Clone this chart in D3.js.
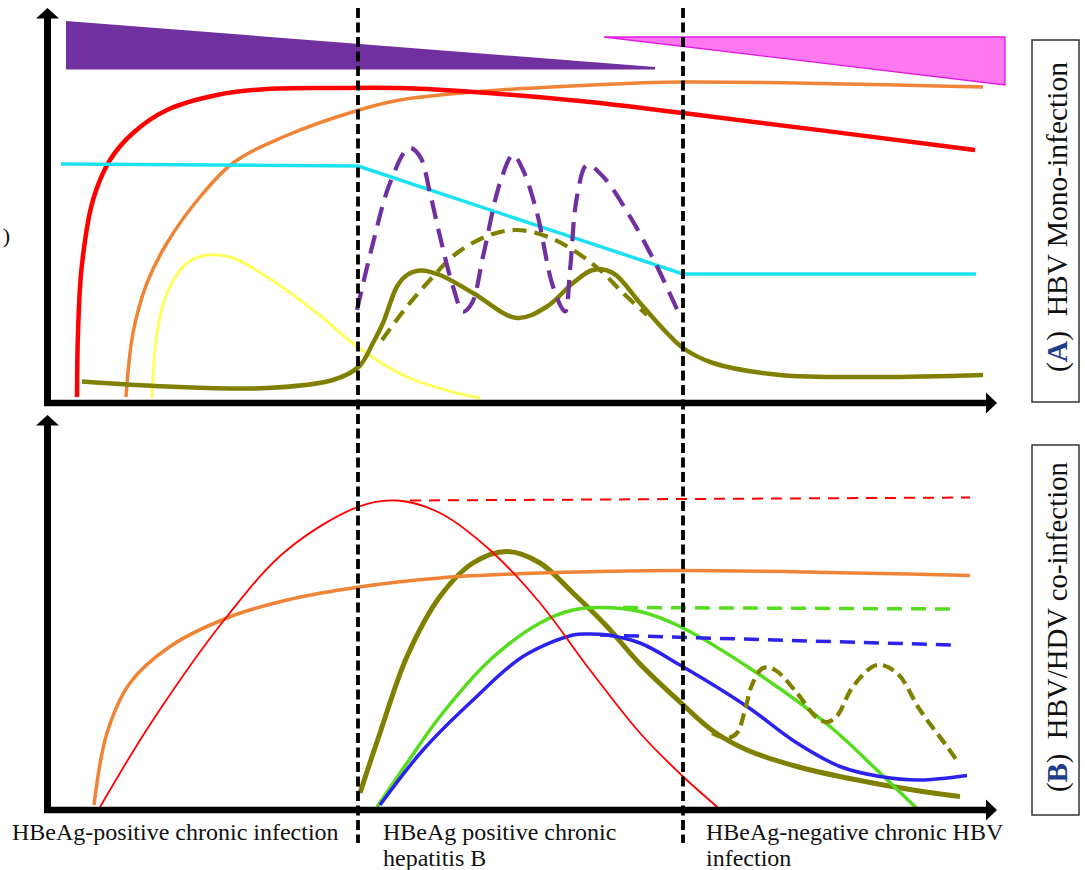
<!DOCTYPE html>
<html><head><meta charset="utf-8">
<script src="https://cdn.jsdelivr.net/npm/d3@7"></script>
<style>body{margin:0;background:#fff}svg{display:block}</style>
</head><body>
<svg id="chart" width="1085" height="870"></svg>
<script>
// ---------- DATA (time in arbitrary units 0-95, level in arbitrary units 0-79) ----------
const phaseBounds = [31.2, 63.7];
const phaseLabels = [
  ["HBeAg-positive chronic infection"],
  ["HBeAg positive chronic", "hepatitis B"],
  ["HBeAg-negative chronic HBV", "infection"]
];
const panelLetters = ["A", "B"];
const panelTitles = ["HBV Mono-infection", "HBV/HDV co-infection"];
const cutLabel = ")";

// Panel A (HBV mono-infection)
const purpleWedge = [[2.0,76.4],[60.9,67.2],[60.9,66.7],[2.0,66.7]];
const pinkWedge   = [[55.8,73.2],[95.9,73.2],[95.9,63.6]];
const redA = [[3.1,1.2],[3.2,14.0],[3.57,27.2],[4.7,40.6],[6.4,48.6],[8.7,54.0],[12.1,58.6],[17.1,61.6],[22.1,62.8],[28.7,63.0],[35.4,63.0],[41.4,62.4],[53.4,60.4],[63.7,58.0],[92.9,50.6]];
const orangeA = [[8.0,1.2],[8.7,14.0],[10.1,24.0],[12.1,32.0],[15.4,41.2],[18.7,48.0],[23.7,53.2],[31.3,58.6],[35.4,60.6],[45.4,62.6],[53.4,63.5],[63.7,64.2],[93.7,63.2]];
const yellowA = [[10.6,1.0],[11.1,14.0],[12.1,22.0],[14.1,28.0],[16.2,29.6],[18.7,29.0],[22.1,25.2],[27.1,18.0],[31.3,11.0],[36.1,5.2],[41.1,2.0],[43.4,1.0]];
const cyanA = [[1.5,47.8],[31.2,47.4],[63.7,25.8],[93.0,25.8]];
const oliveA = [[3.6,4.3],[12.1,3.3],[22.1,3.0],[28.7,4.6],[31.3,7.3],[32.7,12.0],[33.7,16.0],[35.1,23.3],[36.1,25.6],[37.4,26.5],[39.4,25.6],[42.7,22.0],[47.1,17.0],[50.1,19.3],[52.7,24.0],[54.7,26.6],[56.7,26.0],[59.4,20.0],[62.1,14.0],[63.7,11.0],[66.7,8.0],[73.4,5.6],[83.4,5.2],[93.7,5.6]];
const oliveDashA = [[33.6,12.6],[36.1,19.3],[38.4,24.6],[41.1,30.0],[44.4,33.6],[47.1,34.6],[50.1,33.3],[52.7,30.6],[55.4,26.6],[57.7,22.0],[60.1,17.6]];
const purpleDashA = [[31.1,18.6],[32.7,32.0],[34.4,44.0],[36.3,51.0],[37.4,49.3],[38.4,42.0],[39.4,33.3],[40.7,23.3],[41.7,18.3],[42.6,20.0],[43.7,29.3],[45.4,44.0],[46.7,49.6],[47.7,46.6],[49.1,38.0],[50.7,23.3],[51.9,18.3],[52.4,26.6],[53.1,41.3],[54.1,47.6],[55.7,45.3],[58.4,37.3],[61.1,27.3],[63.2,18.3]];

// Panel B (HBV/HDV co-infection)
const redB = [[5.4,0.6],[10.7,18.0],[18.1,38.7],[24.1,52.0],[31.3,60.7],[35.1,61.9],[39.4,59.4],[44.4,52.0],[49.4,41.4],[54.4,28.0],[59.4,15.4],[63.7,6.7],[67.6,-0.2]];
const redDashB = [[36.4,61.9],[92.4,62.5]];
const orangeB = [[4.8,1.0],[6.1,15.4],[8.4,25.4],[12.4,32.7],[18.1,38.4],[24.1,42.0],[31.3,44.6],[39.4,46.4],[49.4,47.4],[63.4,47.9],[92.4,46.9]];
const oliveB = [[31.4,3.4],[33.4,15.4],[36.1,30.7],[39.4,42.7],[42.7,49.4],[46.1,51.7],[49.4,49.4],[52.7,43.4],[56.1,36.7],[59.4,29.2],[63.4,21.6],[66.7,15.8],[70.1,12.0],[75.1,8.7],[80.1,6.4],[86.7,4.0],[91.4,2.7]];
const greenB = [[33.1,0.6],[36.1,9.4],[39.4,18.7],[44.4,30.0],[49.4,37.4],[52.7,40.0],[55.4,40.5],[59.4,39.7],[63.4,36.7],[71.1,27.4],[78.4,16.7],[83.4,7.4],[87.4,-0.3]];
const greenDashB = [[57.7,40.5],[91.1,40.2]];
const blueB = [[33.4,1.0],[37.7,12.0],[42.7,22.0],[47.7,30.7],[52.7,35.0],[54.4,35.2],[56.1,35.0],[59.4,33.4],[63.4,29.0],[70.1,20.7],[75.1,13.4],[79.4,8.7],[83.4,6.7],[87.4,6.0],[92.1,6.9]];
const blueDashB = [[55.4,35.0],[90.6,33.0]];
const oliveDashB = [[66.6,15.4],[68.1,14.4],[69.1,15.4],[69.9,20.0],[70.6,25.0],[71.7,28.4],[72.9,28.0],[75.1,23.4],[76.9,18.8],[78.1,17.6],[79.1,18.8],[80.7,24.7],[83.1,29.0],[85.1,27.4],[87.4,20.0],[90.1,12.7],[91.2,9.6]];

// ---------- DRAWING ----------
const svg = d3.select("#chart");
const FONT = "'Liberation Serif','Times New Roman',serif";
const x  = d3.scaleLinear().domain([0, 95]).range([46, 996]);
const yA = d3.scaleLinear().domain([0, 79]).range([403, 8]);
const yB = d3.scaleLinear().domain([0, 79]).range([810, 415]);
const SMOOTH = d3.curveCatmullRom.alpha(0.5);

function lineGen(y, curve) {
  return d3.line().x(d => x(d[0])).y(d => y(d[1])).curve(curve || SMOOTH);
}
function drawSeries(g, y, data, color, width, dash, curve) {
  g.append("path").datum(data)
    .attr("d", lineGen(y, curve))
    .attr("fill", "none").attr("stroke", color).attr("stroke-width", width)
    .attr("stroke-linecap", "butt").attr("stroke-linejoin", "round")
    .attr("stroke-dasharray", dash || null);
}
function drawAxes(g, y) {
  const ax = x(0) + 1.5, y0 = y(0), yTop = y(79), xEnd = x(95) + 1;
  g.append("line").attr("x1", ax).attr("x2", ax).attr("y1", y0 + 3).attr("y2", yTop + 9)
    .attr("stroke", "#000").attr("stroke-width", 7);
  g.append("path").attr("d", `M${ax-11.5},${yTop+10.5}L${ax},${yTop}L${ax+11.5},${yTop+10.5}Z`).attr("fill", "#000");
  g.append("line").attr("x1", ax - 3.5).attr("x2", xEnd - 9).attr("y1", y0).attr("y2", y0)
    .attr("stroke", "#000").attr("stroke-width", 6.5);
  g.append("path").attr("d", `M${xEnd-11},${y0-10.5}L${xEnd},${y0}L${xEnd-11},${y0+10.5}Z`).attr("fill", "#000");
}

// Panel A
const gA = svg.append("g");
gA.append("path").datum(purpleWedge).attr("d", lineGen(yA, d3.curveLinearClosed)).attr("fill", "#7030A0");
gA.append("path").datum(pinkWedge).attr("d", lineGen(yA, d3.curveLinearClosed))
  .attr("fill", "#FF78F0").attr("stroke", "#E01AE0").attr("stroke-width", 1.3);
drawSeries(gA, yA, yellowA, "#FFFF5C", 3);
drawSeries(gA, yA, orangeA, "#EF8436", 3.5);
drawSeries(gA, yA, redA, "#FF0000", 4.5);
drawSeries(gA, yA, cyanA, "#1CE2EF", 3.5, null, d3.curveLinear);
drawSeries(gA, yA, oliveA, "#808000", 4.5);
drawSeries(gA, yA, oliveDashA, "#808000", 4.2, "14,8");
drawSeries(gA, yA, purpleDashA, "#7030A0", 4.2, "19,10");
drawAxes(gA, yA);

// Panel B
const gB = svg.append("g");
drawSeries(gB, yB, oliveB, "#808000", 5);
drawSeries(gB, yB, greenB, "#56DC1E", 3.5);
drawSeries(gB, yB, blueB, "#2B22EE", 3.5);
drawSeries(gB, yB, orangeB, "#EF8436", 3.5);
drawSeries(gB, yB, redB, "#FF0000", 1.8);
drawSeries(gB, yB, redDashB, "#FF0000", 2, "11,8", d3.curveLinear);
drawSeries(gB, yB, greenDashB, "#56DC1E", 3.5, "15,9", d3.curveLinear);
drawSeries(gB, yB, blueDashB, "#2B22EE", 3.5, "15,9", d3.curveLinear);
drawSeries(gB, yB, oliveDashB, "#808000", 4.2, "12,6");
drawAxes(gB, yB);

// Phase boundaries
svg.append("g").selectAll("line").data(phaseBounds).join("line")
  .attr("x1", d => x(d)).attr("x2", d => x(d)).attr("y1", 8).attr("y2", 843)
  .attr("stroke", "#000").attr("stroke-width", 3.8).attr("stroke-dasharray", "10,4.5");

// Phase labels
const labelX = [12, x(phaseBounds[0]) + 25, x(phaseBounds[1]) + 23];
phaseLabels.forEach((lines, i) => {
  lines.forEach((t, j) => {
    svg.append("text").attr("x", labelX[i]).attr("y", 840 + j * 26)
      .attr("font-family", FONT).attr("font-size", 24).attr("fill", "#111").text(t);
  });
});

// Panel side labels
const boxes = [{top: 40, bottom: 402, base: 372, len: 310}, {top: 445, bottom: 815, base: 792, len: 330}];
panelLetters.forEach((L, i) => {
  const b = boxes[i];
  svg.append("rect").attr("x", 1032).attr("y", b.top).attr("width", 47).attr("height", b.bottom - b.top)
    .attr("fill", "none").attr("stroke", "#333").attr("stroke-width", 1.5);
  const t = svg.append("text").attr("transform", `translate(1067,${b.base}) rotate(-90)`)
    .attr("font-family", FONT).attr("font-size", 30).attr("fill", "#111")
    .attr("textLength", b.len).attr("lengthAdjust", "spacingAndGlyphs");
  t.append("tspan").text("(");
  t.append("tspan").attr("font-weight", "bold").attr("fill", "#1F3C88").text(L);
  t.append("tspan").text(")\u00A0 " + panelTitles[i]);
});

// axis label fragment at left edge
svg.append("text").attr("x", 10).attr("y", 243).attr("text-anchor", "end")
  .attr("font-family", FONT).attr("font-size", 22).attr("fill", "#111").text(cutLabel);
</script>
</body></html>
